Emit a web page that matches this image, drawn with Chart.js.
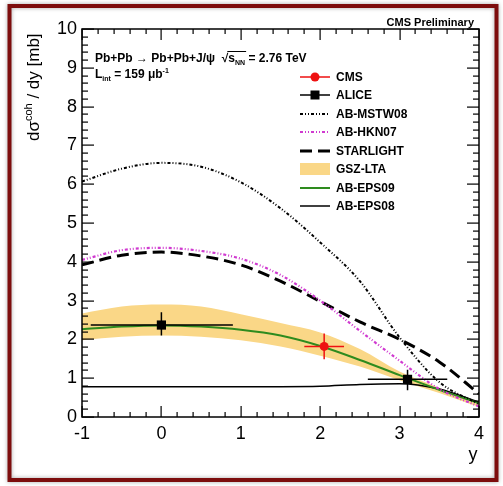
<!DOCTYPE html>
<html>
<head>
<meta charset="utf-8">
<script src="https://cdn.jsdelivr.net/npm/chart.js@4"></script>
<style>
  body { margin: 0; background: #fff; }
  canvas { display: block; }
</style>
</head>
<body>
<canvas id="chart" width="503" height="486"></canvas>
<script>
// rapidity grid for the model curves
const xs = [-1, -0.5, 0, 0.5, 1, 1.5, 2, 2.5, 3, 3.5, 4];

// model predictions (mb)
const mstw08 = [6.07, 6.40, 6.55, 6.45, 6.05, 5.38, 4.50, 3.50, 2.05, 0.90, 0.33];
const hkn07 = [4.05, 4.30, 4.36, 4.28, 4.08, 3.66, 3.00, 2.22, 1.45, 0.72, 0.27];
const starlight = [3.92, 4.17, 4.25, 4.15, 3.92, 3.50, 2.98, 2.45, 2.00, 1.42, 0.60];
const gszHigh = [2.67, 2.85, 2.90, 2.85, 2.65, 2.42, 2.18, 1.75, 1.17, 0.75, 0.32];
const gszLow = [1.98, 2.07, 2.10, 2.07, 1.98, 1.82, 1.58, 1.30, 0.95, 0.62, 0.26];
const eps09 = [2.26, 2.33, 2.36, 2.33, 2.25, 2.10, 1.83, 1.47, 1.08, 0.70, 0.36];
const eps08 = [0.78, 0.78, 0.78, 0.78, 0.78, 0.78, 0.79, 0.84, 0.86, 0.72, 0.38];

// axis ticks (ROOT style: major every 1, minor every 0.2)
const xMajorTicks = [-1, 0, 1, 2, 3, 4];
const yMajorTicks = [0, 1, 2, 3, 4, 5, 6, 7, 8, 9, 10];
const minorPerMajor = 5;

// measurements
const cmsX = [2.05];
const cmsY = [1.82];
const cmsXErr = [0.25];
const cmsYErr = [0.33];

const aliceX = [0, 3.1];
const aliceY = [2.37, 0.97];
const aliceXLo = [0.89, 0.5];
const aliceXHi = [0.90, 0.5];
const aliceYLo = [0.27, 0.28];
const aliceYHi = [0.33, 0.25];

const FONT = '"Liberation Sans", Arial, Helvetica, sans-serif';
const GREEN = '#2e8b1e';
const MAGENTA = '#d03ad0';
const RED = '#ee1111';
const BAND = 'rgb(250, 215, 135)';

const pts = (ys) => xs.map((x, i) => ({ x: x, y: ys[i] }));
const curve = (label, ys, color, width, dash, order) => ({
    label: label,
    data: pts(ys),
    borderColor: color,
    borderWidth: width,
    borderDash: dash,
    pointRadius: 0,
    fill: false,
    cubicInterpolationMode: 'monotone',
    order: order
});

// error bars, drawn right before the marker dataset
const errorBars = {
    id: 'errorBars',
    beforeDatasetDraw(chart, args) {
        const ds = chart.data.datasets[args.index];
        if (!ds.err) return;
        const { ctx, scales: { x, y } } = chart;
        ctx.save();
        ctx.setLineDash([]);
        ctx.strokeStyle = ds.borderColor;
        ctx.lineWidth = 1.5;
        ds.data.forEach((p, i) => {
            const e = ds.err;
            const px = x.getPixelForValue(p.x), py = y.getPixelForValue(p.y);
            ctx.beginPath();
            ctx.moveTo(x.getPixelForValue(p.x - e.xlo[i]), py);
            ctx.lineTo(x.getPixelForValue(p.x + e.xhi[i]), py);
            ctx.moveTo(px, y.getPixelForValue(p.y - e.ylo[i]));
            ctx.lineTo(px, y.getPixelForValue(p.y + e.yhi[i]));
            ctx.stroke();
        });
        ctx.restore();
    }
};

// ticks on all four sides, pointing inwards
function drawTicks(chart) {
    const ctx = chart.ctx, a = chart.chartArea;
    const sx = chart.scales.x, sy = chart.scales.y;
    ctx.fillStyle = '#000';
    xMajorTicks.forEach((v, k) => {
        for (let j = 0; j < minorPerMajor; j++) {
            if (k === xMajorTicks.length - 1 && j > 0) break;
            const val = v + j * (1 / minorPerMajor);
            const px = Math.round(sx.getPixelForValue(val));
            const len = j === 0 ? 11 : 5;
            ctx.fillRect(px - 0.5, a.bottom - len, 1.2, len);
            ctx.fillRect(px - 0.5, a.top, 1.2, len);
        }
    });
    yMajorTicks.forEach((v, k) => {
        for (let j = 0; j < minorPerMajor; j++) {
            if (k === yMajorTicks.length - 1 && j > 0) break;
            const val = v + j * (1 / minorPerMajor);
            const py = Math.round(sy.getPixelForValue(val));
            const len = j === 0 ? 12 : 6;
            ctx.fillRect(a.left, py - 0.5, len, 1.2);
            ctx.fillRect(a.right - len, py - 0.5, len, 1.2);
        }
    });
}

// ROOT-like frame, texts, legend and the outer red frame
const decorations = {
    id: 'decorations',
    beforeDraw(chart) {
        const ctx = chart.ctx;
        ctx.save();
        ctx.fillStyle = '#fff';
        ctx.fillRect(0, 0, chart.width, chart.height);
        ctx.shadowColor = 'rgba(0,0,0,0.35)';
        ctx.shadowBlur = 4;
        ctx.strokeStyle = '#7d0d0d';
        ctx.lineWidth = 4;
        ctx.strokeRect(9.5, 6, 487, 474);
        ctx.restore();
    },
    afterDraw(chart) {
        const { ctx, chartArea: a } = chart;
        ctx.save();
        ctx.setLineDash([]);
        ctx.strokeStyle = '#000';
        ctx.lineWidth = 1.5;
        ctx.strokeRect(a.left, a.top, a.right - a.left, a.bottom - a.top);
        drawTicks(chart);

        // axis titles
        ctx.fillStyle = '#000';
        ctx.font = '18px ' + FONT;
        ctx.textAlign = 'center';
        ctx.textBaseline = 'alphabetic';
        ctx.fillText('y', 473, 460);

        ctx.save();
        ctx.translate(39, 141);
        ctx.rotate(-Math.PI / 2);
        ctx.textAlign = 'left';
        let cx = 0;
        ctx.font = '17px ' + FONT;
        ctx.fillText('dσ', cx, 0); cx += ctx.measureText('dσ').width;
        ctx.font = '11px ' + FONT;
        ctx.fillText('coh', cx, -7); cx += ctx.measureText('coh').width;
        ctx.font = '17px ' + FONT;
        ctx.fillText(' / dy [mb]', cx, 0);
        ctx.restore();

        // header texts
        ctx.textAlign = 'right';
        ctx.font = 'bold 11px ' + FONT;
        ctx.fillText('CMS Preliminary', 474, 26);

        ctx.textAlign = 'left';
        const run = (parts, x0, base) => {
            let cx = x0;
            parts.forEach(([t, size, dy]) => {
                ctx.font = 'bold ' + size + 'px ' + FONT;
                ctx.fillText(t, cx, base + dy);
                cx += ctx.measureText(t).width;
            });
            return cx;
        };
        let cx1 = run([['Pb+Pb \u2192 Pb+Pb+J/\u03c8  ', 12, 0]], 95, 62);
        cx1 = run([['\u221a', 12, 0]], cx1, 62);
        const sStart = cx1;
        cx1 = run([['s', 12, 0], ['NN', 7, 3]], cx1, 62);
        ctx.lineWidth = 1;
        ctx.beginPath();
        ctx.moveTo(sStart - 1, 51.5); ctx.lineTo(cx1 + 1, 51.5);
        ctx.stroke();
        run([[' = 2.76 TeV', 12, 0]], cx1, 62);
        run([['L', 12, 0], ['int', 7, 3], [' = 159 \u03bcb', 12, 0], ['-1', 7, -5]], 95, 78);

        // legend
        const rowY = [77, 95, 114, 132, 151, 169, 188, 206];
        const x0 = 300, x1 = 330;
        const line = (yy, color, width, dash) => {
            ctx.save();
            ctx.strokeStyle = color; ctx.lineWidth = width; ctx.setLineDash(dash);
            ctx.beginPath(); ctx.moveTo(x0, yy); ctx.lineTo(x1, yy); ctx.stroke();
            ctx.restore();
        };
        legendItems.forEach((item, i) => {
            const yy = rowY[i];
            if (item.kind === 'band') {
                ctx.fillStyle = BAND;
                ctx.fillRect(x0, yy - 6, x1 - x0, 12);
            } else {
                line(yy, item.color, item.width, item.dash);
            }
            if (item.kind === 'circle') {
                ctx.fillStyle = item.color;
                ctx.beginPath(); ctx.arc((x0 + x1) / 2, yy, 4.5, 0, Math.PI * 2); ctx.fill();
            }
            if (item.kind === 'square') {
                ctx.fillStyle = item.color;
                ctx.fillRect((x0 + x1) / 2 - 4.5, yy - 4.5, 9, 9);
            }
            ctx.fillStyle = '#000';
            ctx.font = 'bold 12px ' + FONT;
            ctx.textBaseline = 'middle';
            ctx.fillText(item.label, 336, yy + 1);
            ctx.textBaseline = 'alphabetic';
        });
        ctx.restore();
    }
};

const legendItems = [
    { label: 'CMS', kind: 'circle', color: RED, width: 1.5, dash: [] },
    { label: 'ALICE', kind: 'square', color: '#000', width: 1.5, dash: [] },
    { label: 'AB-MSTW08', kind: 'line', color: '#000', width: 2, dash: [3, 2, 1, 2, 1, 2] },
    { label: 'AB-HKN07', kind: 'line', color: MAGENTA, width: 2.2, dash: [3, 2, 1, 2, 1, 2] },
    { label: 'STARLIGHT', kind: 'line', color: '#000', width: 3, dash: [12, 6] },
    { label: 'GSZ-LTA', kind: 'band' },
    { label: 'AB-EPS09', kind: 'line', color: GREEN, width: 2, dash: [] },
    { label: 'AB-EPS08', kind: 'line', color: '#000', width: 1.5, dash: [] }
];

const datasets = [
    {
        label: 'GSZ-LTA low', data: pts(gszLow), borderWidth: 0, pointRadius: 0,
        fill: false, cubicInterpolationMode: 'monotone', order: 20
    },
    {
        label: 'GSZ-LTA', data: pts(gszHigh), borderWidth: 0, pointRadius: 0,
        backgroundColor: BAND, fill: { target: 0 }, cubicInterpolationMode: 'monotone', order: 19
    },
    curve('AB-EPS08', eps08, '#000', 1.5, [], 8),
    curve('AB-EPS09', eps09, GREEN, 2, [], 7),
    curve('STARLIGHT', starlight, '#000', 3, [12, 6], 6),
    curve('AB-HKN07', hkn07, MAGENTA, 2.2, [3, 2, 1, 2, 1, 2], 5),
    curve('AB-MSTW08', mstw08, '#000', 2, [3, 2, 1, 2, 1, 2], 4),
    {
        label: 'ALICE', data: aliceX.map((x, i) => ({ x: x, y: aliceY[i] })),
        showLine: false, pointStyle: 'rect', pointRadius: 6.5,
        backgroundColor: '#000', borderColor: '#000', borderWidth: 0, order: 1,
        err: { xlo: aliceXLo, xhi: aliceXHi, ylo: aliceYLo, yhi: aliceYHi }
    },
    {
        label: 'CMS', data: cmsX.map((x, i) => ({ x: x, y: cmsY[i] })),
        showLine: false, pointStyle: 'circle', pointRadius: 4.5,
        backgroundColor: RED, borderColor: RED, borderWidth: 0, order: 0,
        err: { xlo: cmsXErr, xhi: cmsXErr, ylo: cmsYErr, yhi: cmsYErr }
    }
];

new Chart(document.getElementById('chart').getContext('2d'), {
    type: 'line',
    data: { datasets: datasets },
    options: {
        responsive: false,
        animation: false,
        events: [],
        layout: { padding: { left: 0, top: 29, right: 24, bottom: 0 } },
        plugins: { legend: { display: false }, tooltip: { enabled: false } },
        scales: {
            x: {
                type: 'linear', min: -1, max: 4,
                grid: { display: false, tickLength: 0 },
                border: { display: false },
                ticks: {
                    stepSize: 1, color: '#000', padding: 6,
                    font: { family: FONT, size: 18 }
                },
                afterFit: (s) => { s.height = 69; }
            },
            y: {
                type: 'linear', min: 0, max: 10,
                grid: { display: false, tickLength: 0 },
                border: { display: false },
                ticks: {
                    stepSize: 1, color: '#000', padding: 5,
                    font: { family: FONT, size: 18 }
                },
                afterFit: (s) => { s.width = 82; }
            }
        }
    },
    plugins: [errorBars, decorations]
});
</script>
</body>
</html>
